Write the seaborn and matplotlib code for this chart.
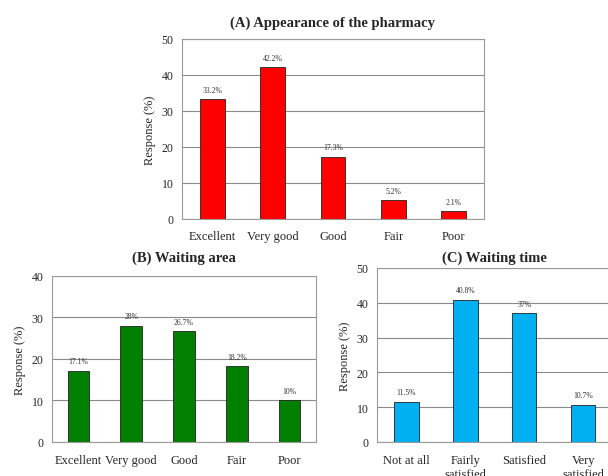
import numpy as np
import pandas as pd
import seaborn as sns
import matplotlib.pyplot as plt

# Dữ liệu
cat_a = ["Excellent", "Very good", "Good", "Fair", "Poor"]
val_a = [33.2, 42.2, 17.3, 5.2, 2.1]
lab_a = ["33.2%", "42.2%", "17.3%", "5.2%", "2.1%"]

cat_b = ["Excellent", "Very good", "Good", "Fair", "Poor"]
val_b = [17.1, 28, 26.7, 18.2, 10]
lab_b = ["17.1%", "28%", "26.7%", "18.2%", "10%"]

cat_c = ["Not at all", "Fairly\nsatisfied", "Satisfied", "Very\nsatisfied"]
val_c = [11.5, 40.8, 37, 10.7]
lab_c = ["11.5%", "40.8%", "37%", "10.7%"]

sns.set_style("white")
plt.rcParams["font.family"] = ["Liberation Serif", "DejaVu Serif"]


def panel(ax, cats, vals, labels, color, title, ymax, tpad, xpad):
    df = pd.DataFrame({"cat": cats, "val": vals})
    sns.barplot(data=df, x="cat", y="val", color=color, width=0.41,
                edgecolor="#222222", linewidth=0.6, saturation=1, ax=ax)
    ax.set_ylim(0, ymax)
    ax.set_xlim(-0.5, len(cats) - 0.5)
    ax.set_yticks(np.arange(0, ymax + 1, 10))
    ax.yaxis.grid(True, color="#8a8a8a", linewidth=0.8)
    ax.set_axisbelow(True)
    for s in ax.spines.values():
        s.set_color("#9a9a9a")
        s.set_linewidth(0.8)
    ax.tick_params(axis="y", labelsize=8.5, length=3, color="#9a9a9a", pad=3)
    ax.tick_params(axis="x", which="major", labelsize=9, length=0, pad=xpad)
    ax.set_xticks(np.arange(-0.5, len(cats)), minor=True)
    ax.tick_params(axis="x", which="minor", length=3, color="#9a9a9a")
    ax.set_xlabel("")
    ax.set_ylabel("Response (%)", fontsize=9)
    ax.set_title(title, fontsize=10.5, fontweight="bold", pad=tpad)
    ax.bar_label(ax.containers[0], labels=labels, fontsize=5.5, padding=4,
                 color="#333333")


fig = plt.figure(figsize=(6.08, 4.77), dpi=100)
ax_a = fig.add_axes([0.2993, 0.5388, 0.4967, 0.3774])
ax_b = fig.add_axes([0.0855, 0.0713, 0.4342, 0.348])
ax_c = fig.add_axes([0.620, 0.0713, 0.388, 0.3648])

panel(ax_a, cat_a, val_a, lab_a, "#ff0000", "(A) Appearance of the pharmacy", 50, 9.5, 8)
panel(ax_b, cat_b, val_b, lab_b, "#007f00", "(B) Waiting area", 40, 11, 9)
panel(ax_c, cat_c, val_c, lab_c, "#00b0f0", "(C) Waiting time", 50, 5, 9)

fig.savefig("out.png", dpi=100)
